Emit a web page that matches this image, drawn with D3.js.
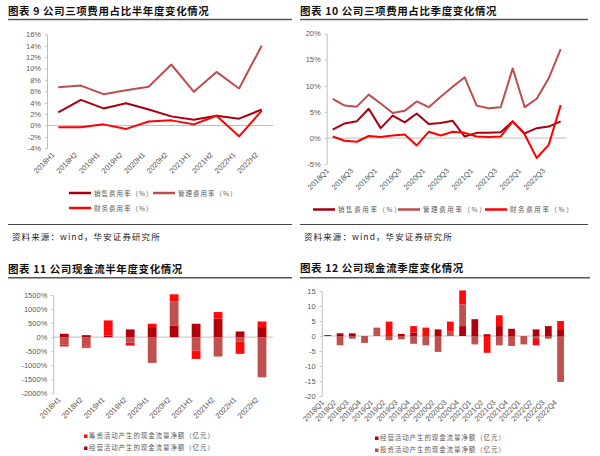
<!DOCTYPE html>
<html>
<head>
<meta charset="utf-8">
<script src="https://cdn.jsdelivr.net/npm/d3@7"></script>
<style>
  body { margin: 0; background: #fff; }
  svg { display: block; font-family: "Liberation Sans", Arial, "Noto Sans CJK SC", sans-serif; }
</style>
</head>
<body>
<svg id="chart" width="600" height="456"></svg>
<script>
// categories
const halfYears = ["2018H1", "2018H2", "2019H1", "2019H2", "2020H1", "2020H2", "2021H1", "2021H2", "2022H1", "2022H2"];
const quarters = ["2018Q1", "2018Q2", "2018Q3", "2018Q4", "2019Q1", "2019Q2", "2019Q3", "2019Q4",
  "2020Q1", "2020Q2", "2020Q3", "2020Q4", "2021Q1", "2021Q2", "2021Q3", "2021Q4",
  "2022Q1", "2022Q2", "2022Q3", "2022Q4"];

// expense ratios (%), half-year
const halfSales = [2.3, 4.5, 3.0, 3.9, 2.8, 1.6, 1.0, 1.7, 1.2, 2.8];
const halfMgmt = [6.7, 7.0, 5.5, 6.2, 6.8, 10.7, 5.9, 9.4, 6.5, 14.0];
const halfFin = [-0.3, -0.3, 0.2, -0.6, 0.7, 0.9, 0.2, 1.7, -1.9, 2.6];

// expense ratios (%), quarterly
const qSales = [1.6, 2.8, 3.2, 5.6, 1.9, 4.3, 3.0, 4.7, 2.7, 2.9, 3.3, 0.3, 1.0, 1.0, 1.1, 3.2, 0.9, 1.9, 2.2, 3.2];
const qMgmt = [7.5, 6.2, 6.0, 8.3, 6.6, 4.8, 5.2, 7.0, 5.9, 7.9, 9.8, 11.6, 6.2, 5.7, 5.9, 13.3, 5.9, 7.5, 11.4, 17.0];
const qFin = [0.3, -0.5, -0.7, 0.4, 0.2, 0.5, 0.7, -1.4, 1.2, 0.5, 1.2, 1.0, 0.3, 0.2, 0.3, 3.2, 0.7, -3.8, -1.3, 6.3];

// cash flow, half-year (axis in %)
const cfHalfOp = [120, 70, 60, 274, 357, 417, 476, 655, 200, 357];
const cfHalfInv = [-270, -330, 0, -200, -917, 857, -476, -690, -150, -1430];
const cfHalfFin = [-60, -50, 535, -100, 120, 250, -300, 238, -445, 200];

// cash flow, quarterly (亿元)
const cfQOp = [0.3, 0.9, 0.9, 0, 0, 0, 0.7, 1.2, 0, 2.2, 0, 3.3, 5.6, 0.6, 3.3, 2.4, 0, 2.2, 3.3, 2.0];
const cfQInv = [0, -3.1, -0.9, -2.3, 2.8, -1.4, -1.1, -2.6, -3.1, -5.3, 1.5, 7.2, -2.8, 0, -3.1, -3.3, -2.8, -1.0, -0.9, -15.3];
const cfQFin = [0, 0, 0, 0, 0, 4.8, 0, 2.1, 2.8, 0, 3.3, 4.7, 0, -5.6, 3.6, 0, 0, -2.1, 0, 3.0];

// tick values
const ticksHalfRatio = [-4, -2, 0, 2, 4, 6, 8, 10, 12, 14, 16];
const ticksQRatio = [-5, 0, 5, 10, 15, 20];
const ticksHalfCf = [-2000, -1500, -1000, -500, 0, 500, 1000, 1500];
const ticksQCf = [-20, -15, -10, -5, 0, 5, 10, 15];

const lineNames = ["销售费用率（%）", "管理费用率（%）", "财务费用率（%）"];
const cfNames = { op: "经营活动产生的现金流量净额（亿元）", inv: "投资活动产生的现金流量净额（亿元）", fin: "筹资活动产生的现金流量净额（亿元）" };

const colSales = "#a8000f";
const colMgmt = "#bd4d4f";
const colFin = "#ff0000";
const cfColors = { op: "#b0000c", inv: "#c0504d", fin: "#ff0a0a" };
const grey = "#595959";
const cjk = "'Noto Sans CJK SC', sans-serif";

const svg = d3.select("#chart");

function header(x, w, yTitle, title, yRule) {
  svg.append("text")
    .attr("x", x).attr("y", yTitle)
    .style("font-family", cjk)
    .style("font-size", "10.5px")
    .style("font-weight", "bold")
    .style("letter-spacing", "0.6px")
    .attr("fill", "#111")
    .text(title);
  svg.append("line")
    .attr("x1", x).attr("x2", x + w)
    .attr("y1", yRule).attr("y2", yRule)
    .attr("stroke", "#555").attr("stroke-width", 1.4);
}

function source(x, w) {
  svg.append("line")
    .attr("x1", x).attr("x2", x + w)
    .attr("y1", 224.5).attr("y2", 224.5)
    .attr("stroke", "#444").attr("stroke-width", 1);
  svg.append("text")
    .attr("x", x + 4).attr("y", 240)
    .style("font-family", cjk)
    .style("font-size", "8.5px")
    .style("letter-spacing", "1.1px")
    .attr("fill", "#222")
    .text("资料来源：wind，华安证券研究所");
}

// shared axes for one panel
function axes(cfg) {
  const x = d3.scaleBand().domain(cfg.cats).range([cfg.x0, cfg.x1]);
  const y = d3.scaleLinear().domain(cfg.domain).range([cfg.yBot, cfg.yTop]);

  const g = svg.append("g");
  const ya = g.append("g")
    .attr("transform", `translate(${cfg.x0},0)`)
    .call(d3.axisLeft(y).tickValues(cfg.ticks).tickFormat(cfg.fmt).tickSizeInner(2).tickSizeOuter(0).tickPadding(4));
  ya.select(".domain").attr("stroke", "#bfbfbf");
  ya.selectAll(".tick line").attr("stroke", "#bfbfbf");
  ya.selectAll("text").attr("fill", grey).style("font-size", "7.5px");

  g.append("line")
    .attr("x1", cfg.x0).attr("x2", cfg.x1)
    .attr("y1", y(0)).attr("y2", y(0))
    .attr("stroke", "#bfbfbf").attr("stroke-width", 1);

  g.selectAll(".xl")
    .data(cfg.cats.filter((d, i) => i % cfg.every === 0))
    .enter()
    .append("text")
    .attr("class", "xl")
    .attr("transform", d => `translate(${x(d) + x.bandwidth() / 2 - 3},${cfg.yBot + 7}) rotate(-45)`)
    .attr("text-anchor", "end")
    .attr("fill", grey)
    .style("font-size", "7.5px")
    .text(d => d);

  return { x, y };
}

function lineChart(cfg) {
  const { x, y } = axes(cfg);
  const line = d3.line()
    .x((d, i) => x(cfg.cats[i]) + x.bandwidth() / 2)
    .y(d => y(d));

  // management first, so sales and finance sit on top
  [1, 0, 2].forEach(k => {
    const s = cfg.series[k];
    svg.append("path")
      .datum(s.values)
      .attr("fill", "none")
      .attr("stroke", s.color)
      .attr("stroke-width", 2)
      .attr("stroke-linejoin", "round")
      .attr("d", line);
  });

  cfg.legend.forEach((p, k) => {
    svg.append("line")
      .attr("x1", p[0]).attr("x2", p[0] + 22)
      .attr("y1", p[1]).attr("y2", p[1])
      .attr("stroke", cfg.series[k].color).attr("stroke-width", 2.5);
    svg.append("text")
      .attr("x", p[0] + 25).attr("y", p[1] + 2.5)
      .style("font-family", cjk)
      .style("font-size", "6.5px")
      .style("letter-spacing", cfg.legendSpacing)
      .attr("fill", grey)
      .text(lineNames[k]);
  });
}

function barChart(cfg) {
  const { x, y } = axes(cfg);
  const keys = ["op", "inv", "fin"];
  const rows = cfg.cats.map((c, i) => ({ cat: c, op: cfg.op[i], inv: cfg.inv[i], fin: cfg.fin[i] }));
  const stacked = d3.stack().keys(keys).offset(d3.stackOffsetDiverging)(rows);
  const bw = x.bandwidth() * cfg.barFrac;

  svg.append("g")
    .selectAll("g")
    .data(stacked)
    .enter()
    .append("g")
    .attr("fill", d => cfColors[d.key])
    .selectAll("rect")
    .data(d => d)
    .enter()
    .append("rect")
    .attr("x", d => x(d.data.cat) + (x.bandwidth() - bw) / 2)
    .attr("width", bw)
    .attr("y", d => y(Math.max(d[0], d[1])))
    .attr("height", d => Math.abs(y(d[0]) - y(d[1])));

  cfg.legend.forEach((k, i) => {
    const yy = cfg.legY + i * cfg.legStep;
    svg.append("rect")
      .attr("x", cfg.legX).attr("y", yy - 3.5)
      .attr("width", 3.5).attr("height", 3.5)
      .attr("fill", cfColors[k]);
    svg.append("text")
      .attr("x", cfg.legX + 5).attr("y", yy)
      .style("font-family", cjk)
      .style("font-size", "6.5px")
      .style("letter-spacing", "0.9px")
      .attr("fill", grey)
      .text(cfNames[k]);
  });
}

// panel 9
header(8, 284, 15, "图表 9  公司三项费用占比半年度变化情况", 19.5);
lineChart({
  cats: halfYears, x0: 47, x1: 273, yTop: 34.3, yBot: 148.3, domain: [-4, 16],
  ticks: ticksHalfRatio, fmt: d => d + "%", every: 1,
  series: [{ values: halfSales, color: colSales }, { values: halfMgmt, color: colMgmt }, { values: halfFin, color: colFin }],
  legend: [[69, 193], [153, 193], [69, 208]], legendSpacing: "1px"
});
source(8, 284);

// panel 10
header(300, 288, 15, "图表 10  公司三项费用占比季度变化情况", 19.5);
lineChart({
  cats: quarters, x0: 326.7, x1: 566.7, yTop: 33.3, yBot: 164.3, domain: [-5, 20],
  ticks: ticksQRatio, fmt: d => d + "%", every: 2,
  series: [{ values: qSales, color: colSales }, { values: qMgmt, color: colMgmt }, { values: qFin, color: colFin }],
  legend: [[313, 209.5], [398, 209.5], [485, 209.5]], legendSpacing: "1.6px"
});
source(300, 288);

// panel 11
header(8, 284, 273, "图表 11  公司现金流半年度变化情况", 277.7);
barChart({
  cats: halfYears, x0: 53.3, x1: 273, yTop: 295, yBot: 393.3, domain: [-2000, 1500],
  ticks: ticksHalfCf, fmt: d => d + "%", every: 1, barFrac: 0.4,
  op: cfHalfOp, inv: cfHalfInv, fin: cfHalfFin,
  legend: ["fin", "op"], legX: 84, legY: 438, legStep: 12
});

// panel 12
header(300, 290, 272, "图表 12  公司现金流季度变化情况", 277.7);
barChart({
  cats: quarters, x0: 321.7, x1: 566.7, yTop: 291, yBot: 396, domain: [-20, 15],
  ticks: ticksQCf, fmt: d => d, every: 1, barFrac: 0.55,
  op: cfQOp, inv: cfQInv, fin: cfQFin,
  legend: ["op", "inv"], legX: 375, legY: 440, legStep: 12
});
</script>
</body>
</html>
